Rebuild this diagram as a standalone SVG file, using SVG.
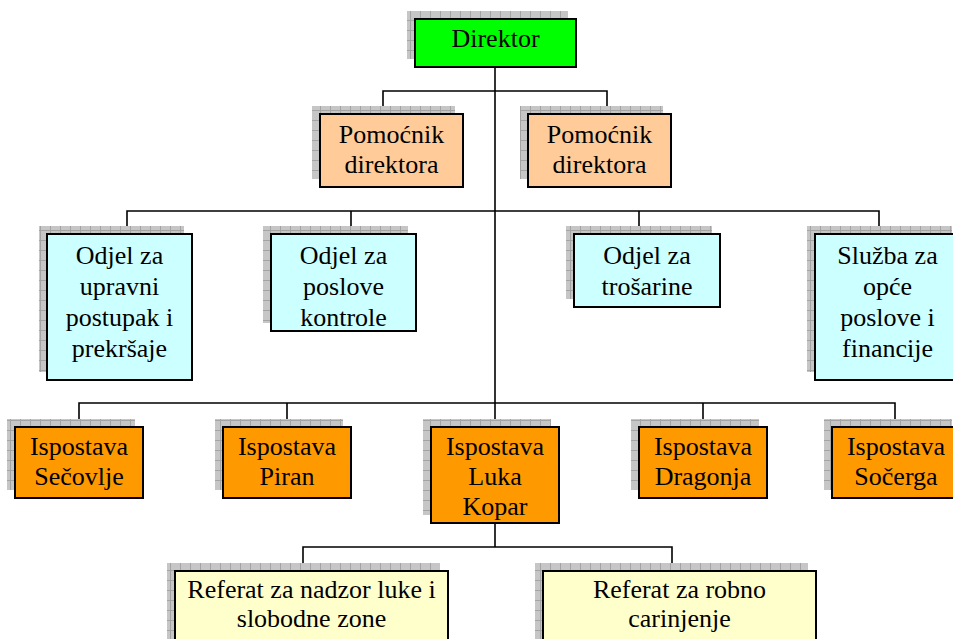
<svg xmlns="http://www.w3.org/2000/svg" width="953" height="639" viewBox="0 0 953 639">
<defs>
<pattern id="grid" width="10" height="10" patternUnits="userSpaceOnUse">
<rect width="10" height="10" fill="#c6c6c6"/>
<path d="M0 0.5H10M0.5 0V10" stroke="#a4a4a4" stroke-width="1"/>
</pattern>
</defs>
<style>
.sh{fill:url(#grid)}
.bx{stroke:#000;stroke-width:2}
.dir{fill:#00ff00}
.pom{fill:#ffcc99}
.odj{fill:#ccffff}
.isp{fill:#ff9900}
.ref{fill:#ffffcc}
text{font-family:"Liberation Serif","Times New Roman",serif;font-size:26px;fill:#000;text-anchor:middle}
.con{fill:none;stroke:#000;stroke-width:1.6}
</style>
<rect width="953" height="639" fill="#fff"/>
<g id="connectors">
<path class="con" d="M495 67V427"/>
<path class="con" d="M383 114V91H607V114"/>
<path class="con" d="M127 234V211H879V234M351 211V234M639 211V234"/>
<path class="con" d="M79 427V403H895V427M287 403V427M703 403V427"/>
<path class="con" d="M495 523V547M303 571V547H672V571"/>
</g>
<g id="direktor">
<rect class="sh" x="407" y="11" width="161" height="48"/>
<rect class="bx dir" x="415" y="19" width="161" height="48"/>
<text x="495.5" y="47">Direktor</text>
</g>
<g id="pomocnik1">
<rect class="sh" x="312" y="106" width="143" height="73"/>
<rect class="bx pom" x="320" y="114" width="143" height="73"/>
<text x="391.5" y="143">Pomoćnik</text>
<text x="391.5" y="173">direktora</text>
</g>
<g id="pomocnik2">
<rect class="sh" x="520" y="106" width="143" height="73"/>
<rect class="bx pom" x="528" y="114" width="143" height="73"/>
<text x="599.5" y="143">Pomoćnik</text>
<text x="599.5" y="173">direktora</text>
</g>
<g id="odjel-upravni">
<rect class="sh" x="39" y="226" width="145" height="146"/>
<rect class="bx odj" x="47" y="234" width="145" height="146"/>
<text x="119.5" y="264">Odjel za</text>
<text x="119.5" y="295">upravni</text>
<text x="119.5" y="326">postupak i</text>
<text x="119.5" y="357">prekršaje</text>
</g>
<g id="odjel-kontrole">
<rect class="sh" x="263" y="226" width="145" height="97"/>
<rect class="bx odj" x="271" y="234" width="145" height="97"/>
<text x="343.5" y="264">Odjel za</text>
<text x="343.5" y="295">poslove</text>
<text x="343.5" y="326">kontrole</text>
</g>
<g id="odjel-trosarine">
<rect class="sh" x="566" y="226" width="146" height="73"/>
<rect class="bx odj" x="574" y="234" width="146" height="73"/>
<text x="647" y="264">Odjel za</text>
<text x="647" y="295">trošarine</text>
</g>
<g id="sluzba">
<rect class="sh" x="807" y="226" width="145" height="146"/>
<rect class="bx odj" x="815" y="234" width="145" height="146"/>
<text x="887.5" y="264">Služba za</text>
<text x="887.5" y="295">opće</text>
<text x="887.5" y="326">poslove i</text>
<text x="887.5" y="357">financije</text>
</g>
<g id="ispostava-secovlje">
<rect class="sh" x="7" y="419" width="128" height="71"/>
<rect class="bx isp" x="15" y="427" width="128" height="71"/>
<text x="79" y="455">Ispostava</text>
<text x="79" y="485">Sečovlje</text>
</g>
<g id="ispostava-piran">
<rect class="sh" x="215" y="419" width="128" height="71"/>
<rect class="bx isp" x="223" y="427" width="128" height="71"/>
<text x="287" y="455">Ispostava</text>
<text x="287" y="485">Piran</text>
</g>
<g id="ispostava-luka-kopar">
<rect class="sh" x="423" y="419" width="128" height="96"/>
<rect class="bx isp" x="431" y="427" width="128" height="96"/>
<text x="495" y="455">Ispostava</text>
<text x="495" y="485">Luka</text>
<text x="495" y="515">Kopar</text>
</g>
<g id="ispostava-dragonja">
<rect class="sh" x="631" y="419" width="128" height="71"/>
<rect class="bx isp" x="639" y="427" width="128" height="71"/>
<text x="703" y="455">Ispostava</text>
<text x="703" y="485">Dragonja</text>
</g>
<g id="ispostava-socerga">
<rect class="sh" x="824" y="419" width="128" height="71"/>
<rect class="bx isp" x="832" y="427" width="128" height="71"/>
<text x="896" y="455">Ispostava</text>
<text x="896" y="485">Sočerga</text>
</g>
<g id="referat-nadzor">
<rect class="sh" x="167" y="563" width="273" height="90"/>
<rect class="bx ref" x="175" y="571" width="273" height="90"/>
<text x="311.5" y="598">Referat za nadzor luke i</text>
<text x="311.5" y="627">slobodne zone</text>
</g>
<g id="referat-carinjenje">
<rect class="sh" x="535" y="563" width="273" height="90"/>
<rect class="bx ref" x="543" y="571" width="273" height="90"/>
<text x="679.5" y="598">Referat za robno</text>
<text x="679.5" y="627">carinjenje</text>
</g>
</svg>
